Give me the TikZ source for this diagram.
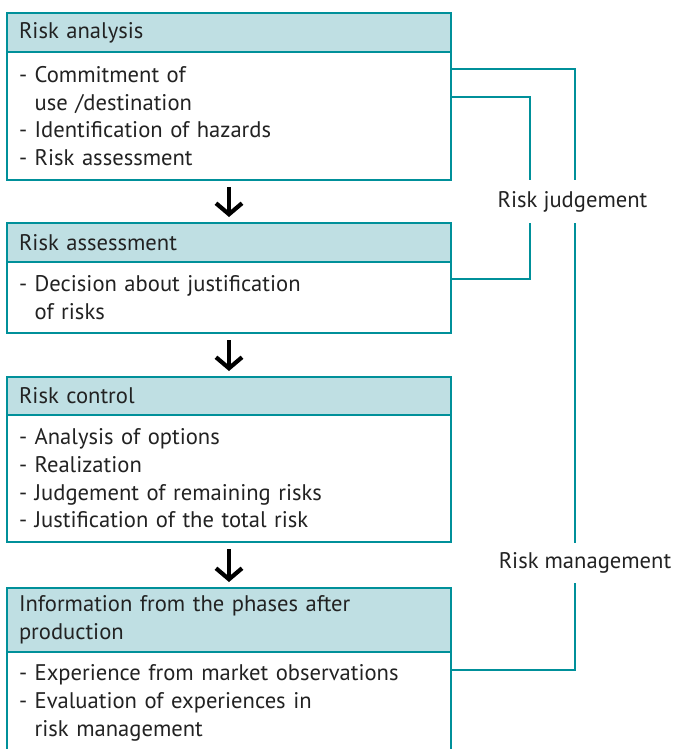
\documentclass[tikz,border=0pt]{standalone}
\usepackage{fontspec}
\setmainfont{PT Sans}
\usepackage{xcolor}
\usetikzlibrary{arrows.meta, positioning}

\definecolor{tealline}{HTML}{00909A}
\definecolor{tealfill}{HTML}{BFDFE3}
\definecolor{inktext}{HTML}{222222}

\begin{document}
\begin{tikzpicture}[
    x=1pt, y=-1pt,
    every node/.style={font=\fontsize{22.6}{27.7}\selectfont, text=inktext},
    head/.style={rectangle, draw=tealline, fill=tealfill, line width=2.5pt, outer sep=0pt, text width=420pt, inner xsep=12pt, inner ysep=0pt, align=left, minimum width=444pt},
    body/.style={rectangle, draw=tealline, fill=white, line width=2.5pt, outer sep=0pt, text width=420pt, inner xsep=12pt, inner ysep=0pt, align=left, minimum width=444pt, below=0pt of #1},
    link/.style={draw=tealline, line width=2.5pt},
    flow/.style={-{Straight Barb[length=11pt, width=26pt]}, line width=4.2pt, draw=black, shorten <=7pt, shorten >=6pt},
    judge/.style={inner sep=0pt, minimum width=150pt}
]
    \useasboundingbox (0,0) rectangle (674,749);

    % Phase boxes: header on top, list below
    \node[head, anchor=north west, minimum height=39pt] (h1) at (7,13) {Risk analysis};
    \node[body=h1, minimum height=128pt] (b1) {- Commitment of\\\hphantom{- }use /destination\\- Identification of hazards\\- Risk assessment};

    \node[head, below=43pt of b1, minimum height=39pt] (h2) {Risk assessment};
    \node[body=h2, minimum height=71pt] (b2) {- Decision about justification\\\hphantom{- }of risks};

    \node[head, below=44pt of b2, minimum height=38pt] (h3) {Risk control};
    \node[body=h3, minimum height=127pt] (b3) {- Analysis of options\\- Realization\\- Judgement of remaining risks\\- Justification of the total risk};

    \node[head, below=46pt of b3, minimum height=64pt] (h4) {Information from the phases after\\production};
    \node[body=h4, minimum height=102pt] (b4) {- Experience from market observations\\- Evaluation of experiences in\\\hphantom{- }risk management};

    % Side labels, the brackets break around them
    \node[judge, minimum height=43pt] (rj) at (572.5,201.5) {Risk judgement};
    \node[judge, minimum height=40pt] (rm) at (585,563) {Risk management};
    \coordinate (outer) at (575,0);
    \coordinate (inner) at (530,0);

    % Flow Arrows
    \draw[flow] (b1.south) -- (h2.north);
    \draw[flow] (b2.south) -- (h3.north);
    \draw[flow] (b3.south) -- (h4.north);

    % Brackets on the right
    \draw[link] ([yshift=-17pt]b1.north east) -| (outer |- rj.north);
    \draw[link] ([yshift=-45pt]b1.north east) -| (inner |- rj.north);
    \draw[link] (inner |- rj.south) |- ([yshift=-17pt]b2.north east);
    \draw[link] (outer |- rj.south) -- (outer |- rm.north);
    \draw[link] (outer |- rm.south) |- ([yshift=-18pt]b4.north east);
\end{tikzpicture}
\end{document}
